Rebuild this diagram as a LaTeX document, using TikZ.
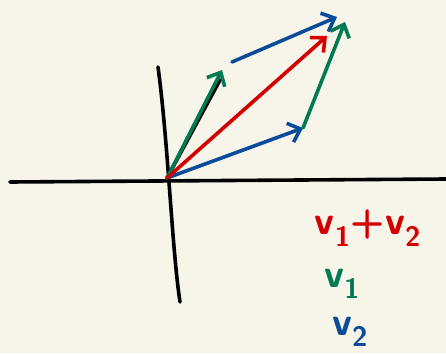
\documentclass[tikz,border=0pt]{standalone}
\usetikzlibrary{arrows.meta}
\definecolor{paper}{HTML}{F7F5EA}
\definecolor{penred}{HTML}{D30000}
\definecolor{pengreen}{HTML}{007A52}
\definecolor{penblue}{HTML}{0A4B9A}
\begin{document}
\begin{tikzpicture}[x=1pt, y=-1pt,
    pen/.style={line width=3.6pt, line cap=round, line join=round},
    vec/.style={pen, -{Straight Barb[length=11pt, width=20pt, line width=3.6pt]}},
    lab/.style={font=\sffamily\bfseries\fontsize{40}{40}\selectfont, inner sep=0pt}]
  % Paper
  \fill[paper] (0,0) rectangle (446,353);
  \useasboundingbox (0,0) rectangle (446,353);
  % Points
  \coordinate (O) at (167,178);
  \coordinate (xl) at (10,182);
  \coordinate (xr) at (446,179);
  \coordinate (yt) at (158,67);
  \coordinate (yb) at (180,302);
  \coordinate (A) at (222,70);   % tip of v1
  \coordinate (B) at (303,128);  % tip of v2
  \coordinate (Bs) at (232,62);  % v2 moved to tip of v1
  \coordinate (C) at (337,17);   % v1+v2 by way of v1
  \coordinate (D) at (345,22);   % v1+v2 by way of v2
  \coordinate (S) at (327,36);   % tip of red sum
  % Axes
  \draw[pen, black] (xl) -- (xr);
  \draw[pen, black] (yt) .. controls (168,140) and (172,250) .. (yb);
  \draw[pen, black] (O) -- (220,80);
  % Vectors
  \draw[vec, pengreen] (O) -- (A);
  \draw[vec, penblue] (O) -- (B);
  \draw[vec, penred] (O) -- (S);
  \draw[vec, penblue] (Bs) -- (C);
  \draw[vec, pengreen] (B) -- (D);
  % Legend
  \node[lab, text=penred] (lsum) at (368,228) {v\textsubscript{1}+v\textsubscript{2}};
  \node[lab, text=pengreen] (lvone) at (342,284) {v\textsubscript{1}};
  \node[lab, text=penblue] (lvtwo) at (350,332) {v\textsubscript{2}};
\end{tikzpicture}
\end{document}
